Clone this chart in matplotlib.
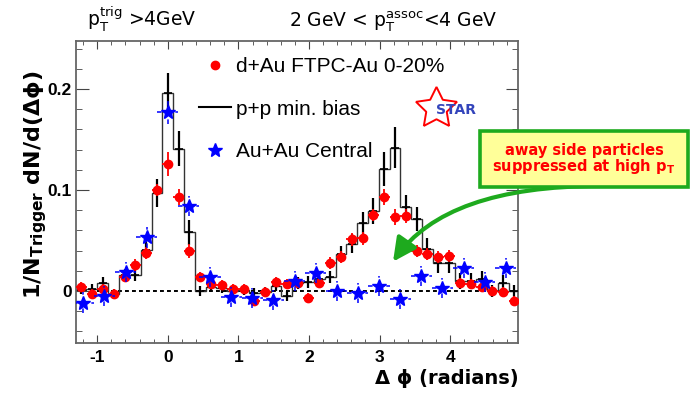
import numpy as np
import matplotlib
matplotlib.use('Agg')
import matplotlib.pyplot as plt
from matplotlib.lines import Line2D
from matplotlib.patches import Rectangle

# bin numbers (bin centre = k * width)
k_fine = np.arange(-8, 33)      # d+Au and p+p, 41 bins over 2pi
k_coarse = np.arange(-4, 17)    # Au+Au, 21 bins over 2pi
w_fine = 2 * np.pi / 41
w_coarse = 2 * np.pi / 21

# d+Au FTPC-Au 0-20%
dau = [0.004, -0.003, 0.002, -0.003, 0.014, 0.026, 0.038, 0.100, 0.126, 0.093,
       0.040, 0.014, 0.007, 0.006, 0.002, 0.002, -0.010, -0.001, 0.009, 0.0066,
       0.008, -0.007, 0.0076, 0.028, 0.034, 0.051, 0.052, 0.075, 0.093, 0.073,
       0.074, 0.040, 0.037, 0.034, 0.035, 0.008, 0.007, 0.004, 0.000, -0.001,
       -0.010]
dau_err = [0.005, 0.005, 0.005, 0.005, 0.005, 0.006, 0.006, 0.006, 0.012, 0.008,
           0.007, 0.005, 0.005, 0.005, 0.005, 0.005, 0.005, 0.005, 0.005, 0.005,
           0.005, 0.005, 0.005, 0.006, 0.006, 0.006, 0.006, 0.006, 0.008, 0.008,
           0.007, 0.006, 0.006, 0.006, 0.006, 0.005, 0.005, 0.005, 0.005, 0.005,
           0.005]

# p+p min. bias
pp = [0.002, 0.002, 0.008, -0.003, 0.016, 0.016, 0.041, 0.097, 0.196, 0.141,
      0.058, 0.000, 0.004, 0.003, 0.000, 0.001, -0.002, -0.001, 0.005, -0.005,
      0.008, 0.009, 0.012, 0.014, 0.037, 0.047, 0.067, 0.079, 0.121, 0.142,
      0.083, 0.071, 0.042, 0.028, 0.028, 0.010, 0.010, 0.012, 0.000, 0.008,
      0.000]
pp_err = [0.005, 0.005, 0.006, 0.005, 0.006, 0.006, 0.008, 0.014, 0.020, 0.017,
          0.012, 0.005, 0.005, 0.005, 0.005, 0.005, 0.005, 0.005, 0.005, 0.005,
          0.006, 0.006, 0.006, 0.006, 0.008, 0.009, 0.011, 0.013, 0.017, 0.020,
          0.012, 0.012, 0.010, 0.010, 0.010, 0.008, 0.008, 0.008, 0.006, 0.008,
          0.006]

# Au+Au Central
auau = [-0.0115, -0.005, 0.019, 0.053, 0.177, 0.084, 0.014, -0.006, -0.0066, -0.009,
        0.010, 0.0175, 0.000, -0.002, 0.005, -0.008, 0.015, 0.003, 0.023, 0.009,
        0.023]
auau_err = [0.010] * 4 + [0.012] + [0.010] * 16

x_fine = k_fine * w_fine
x_coarse = k_coarse * w_coarse
edges = np.append(x_fine - w_fine / 2, x_fine[-1] + w_fine / 2)

W, H = 690, 398


def px(x, y):
    return x / W, 1 - y / H


fig = plt.figure(figsize=(6.9, 3.98), dpi=100)
ax = fig.add_axes([76 / W, 1 - 343 / H, 442 / W, 302 / H])

ax.axhline(0, color='black', lw=1.4, ls=(0, (2, 1.6)), zorder=1)

ax.stairs(pp, edges, baseline=None, color='#333333', lw=1.0, zorder=2)
ax.errorbar(x_fine, pp, yerr=pp_err, fmt='_', color='black', ms=6, mew=1.2,
            elinewidth=1.6, capsize=0, zorder=3)

ax.errorbar(x_fine, dau, xerr=w_fine / 2, yerr=dau_err, fmt='o', color='red',
            ms=6, elinewidth=1.3, capsize=0, zorder=4)

eb = ax.errorbar(x_coarse, auau, xerr=w_coarse / 2, yerr=auau_err, fmt='*',
                 color='blue', ms=10.5, elinewidth=1.1, capsize=0, zorder=5)
for c in eb[2]:
    c.set_linestyle((0, (3, 3)))

ax.set_xlim(-1.30, 4.96)
ax.set_ylim(-0.0515, 0.2475)
ax.set_xticks([-1, 0, 1, 2, 3, 4])
ax.set_xticklabels(['-1', '0', '1', '2', '3', '4'])
ax.set_xticks(np.arange(-1.2, 4.95, 0.2), minor=True)
ax.set_yticks([0, 0.1, 0.2])
ax.set_yticklabels(['0', '0.1', '0.2'])
ax.set_yticks(np.arange(-0.04, 0.25, 0.02), minor=True)
for lab in ax.get_xticklabels() + ax.get_yticklabels():
    lab.set_fontweight('bold')
    lab.set_fontfamily('Liberation Sans')
ax.tick_params(axis='both', which='both', direction='in', top=True, right=True,
               color='#444444', labelsize=12.5)
ax.tick_params(axis='x', which='major', length=6, pad=5)
ax.tick_params(axis='x', which='minor', length=3)
ax.tick_params(axis='y', which='major', length=9, pad=3)
ax.tick_params(axis='y', which='minor', length=4.5)
for s in ax.spines.values():
    s.set_color('#666666')
    s.set_linewidth(1.3)

fig.text(*px(519, 384), 'Δ ϕ (radians)', ha='right', va='baseline',
         fontsize=14, fontweight='bold')
fig.text(*px(36, 185), r'1/N$_{\mathbf{Trigger}}$ dN/d(Δϕ)', rotation=90,
         ha='center', va='center', fontsize=16, fontweight='bold')

fig.text(*px(87, 27), r'p$_{\mathregular{T}}^{\mathregular{trig}}$ >4GeV',
         fontsize=13.5, va='baseline')
fig.text(*px(289, 27), r'2 GeV < p$_{\mathregular{T}}^{\mathregular{assoc}}$<4 GeV',
         fontsize=13.5, va='baseline')

handles = [
    Line2D([], [], marker='o', color='red', ls='none', ms=6),
    Line2D([], [], color='black', lw=1.5),
    Line2D([], [], marker='*', color='blue', ls='none', ms=10.5),
]
labels = ['d+Au FTPC-Au 0-20%', 'p+p min. bias', 'Au+Au Central']
fig.legend(handles, labels, loc='upper left', bbox_to_anchor=px(199, 57),
           frameon=False, prop={'family': 'Liberation Sans', 'size': 15},
           handlelength=1.55, handletextpad=0.25, labelspacing=1.13,
           borderpad=0, borderaxespad=0)

# STAR logo
fig.add_artist(Line2D([436 / W], [1 - 108 / H], marker=(5, 1, 0), ms=31,
                      mfc='none', mec='red', mew=1.4, transform=fig.transFigure))
fig.text(*px(456, 110), 'STAR', ha='center', va='center', fontsize=10,
         fontweight='bold', color='#3344bb')

# annotation
green = '#1eaa1e'
ax.annotate('', xy=(3.19, 0.029), xycoords='data',
            xytext=px(600, 186), textcoords='figure fraction',
            arrowprops=dict(arrowstyle='-|>', connectionstyle='angle3,angleA=0,angleB=55',
                            color=green, lw=3, mutation_scale=35, shrinkA=0, shrinkB=0),
            annotation_clip=False, zorder=6)
fig.add_artist(Rectangle(px(480, 187), 208 / W, 56 / H, transform=fig.transFigure,
                         facecolor='#ffff99', edgecolor=green, lw=2.6, zorder=7))
fig.text(*px(584, 150), 'away side particles', ha='center', va='center',
         fontsize=10.5, fontweight='bold', color='red', zorder=8)
fig.text(*px(584, 167), r'suppressed at high p$_{\mathbf{T}}$', ha='center',
         va='center', fontsize=10.5, fontweight='bold', color='red', zorder=8)

fig.savefig('out.png', dpi=100)
